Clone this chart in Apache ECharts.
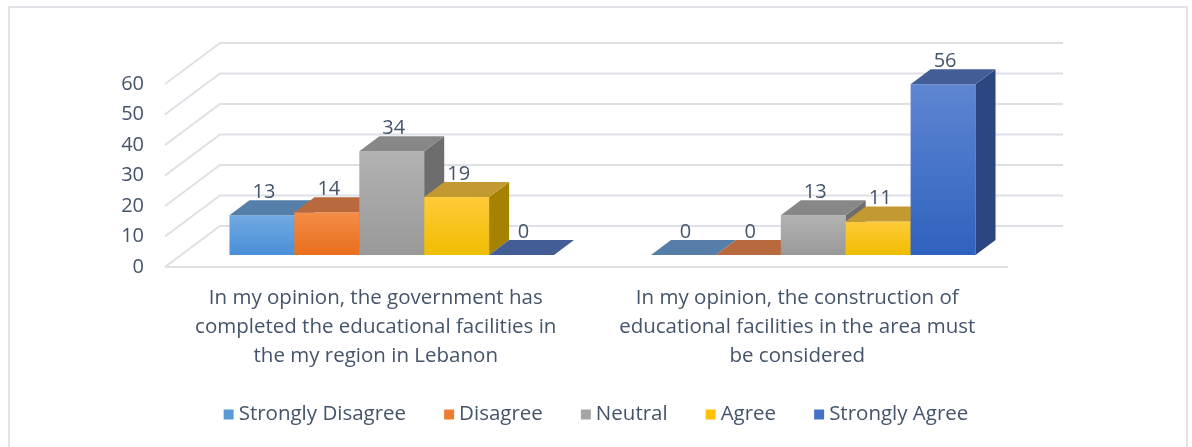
<!DOCTYPE html>
<html>
<head>
    <meta charset="utf-8">
    <script type="text/javascript" src="https://cdn.jsdelivr.net/npm/echarts@6/dist/echarts.min.js"></script>
    <style>
        html, body { margin: 0; padding: 0; background: #fff; }
    </style>
</head>
<body>
<div id="main" style="width:1192px;height:447px"></div>
<script type="text/javascript">
    // data
    var categories = [
        'In my opinion, the government has\ncompleted the educational facilities in\nthe my region in Lebanon',
        'In my opinion, the construction of\neducational facilities in the area must\nbe considered'
    ];
    var seriesNames = ['Strongly Disagree', 'Disagree', 'Neutral', 'Agree', 'Strongly Agree'];
    var stronglyDisagree = [13, 0];
    var disagree = [14, 0];
    var neutral = [34, 13];
    var agree = [19, 11];
    var stronglyAgree = [0, 56];
    var yTicks = [0, 10, 20, 30, 40, 50, 60];

    var allValues = [stronglyDisagree, disagree, neutral, agree, stronglyAgree];
    // front / top / side colours for each series
    var faces = [
        {front: ['#71a9e2', '#4a8fd8'], top: '#557fa8', side: '#3d6c9c', legend: '#5b9bd5'},
        {front: ['#f48d48', '#e86e1c'], top: '#b8693d', side: '#a9561f', legend: '#ed7d31'},
        {front: ['#b2b2b2', '#999999'], top: '#878787', side: '#6d6d6d', legend: '#a5a5a5'},
        {front: ['#ffcb3a', '#efbd00'], top: '#c39a32', side: '#a58200', legend: '#ffc000'},
        {front: ['#5e86d3', '#2f62be'], top: '#435e97', side: '#2b4680', legend: '#4472c4'}
    ];

    var WALL_DX = 55, WALL_DY = 41;   // depth of the floor / back wall
    var BAR_OX = 16, BAR_OY = 12;     // where bar fronts sit
    var BAR_DX = 20, BAR_DY = 15;     // depth of each bar
    var textColor = '#44546a';
    var font = '"Open Sans", "Noto Sans", sans-serif';

    function wallItem(params, api) {
        var cs = params.coordSys;
        var y = api.coord([0, api.value(1)])[1];
        var pts = [[cs.x, y], [cs.x + WALL_DX, y - WALL_DY], [cs.x + cs.width + WALL_DX, y - WALL_DY]];
        var kids = [{
            type: 'polyline',
            shape: {points: pts},
            style: {stroke: '#dde1e7', lineWidth: 2, fill: null}
        }];
        if (api.value(1) === 0) {
            kids.push({
                type: 'line',
                shape: {x1: cs.x, y1: y, x2: cs.x + cs.width, y2: y},
                style: {stroke: '#dde1e7', lineWidth: 2}
            });
        }
        return {type: 'group', children: kids};
    }

    function barRenderer(k) {
        return function (params, api) {
            var cat = api.value(0), v = api.value(1);
            var top = api.coord([cat, v]);
            var base = api.coord([cat, 0]);
            var band = api.size([1, 0])[0];
            var w = band * 0.154;
            var x0 = base[0] - band / 2 + BAR_OX + (band - 5 * w) / 2 + k * w;
            var yb = base[1] - BAR_OY;
            var yt = top[1] - BAR_OY;
            var f = faces[k];
            return {
                type: 'group',
                children: [
                    {
                        type: 'rect',
                        shape: {x: x0, y: yt, width: w, height: yb - yt},
                        style: {
                            fill: new echarts.graphic.LinearGradient(0, 0, 0, 1, [
                                {offset: 0, color: f.front[0]},
                                {offset: 1, color: f.front[1]}
                            ])
                        }
                    },
                    {
                        type: 'polygon',
                        shape: {points: [[x0 + w, yt], [x0 + w + BAR_DX, yt - BAR_DY], [x0 + w + BAR_DX, yb - BAR_DY], [x0 + w, yb]]},
                        style: {fill: f.side}
                    },
                    {
                        type: 'polygon',
                        shape: {points: [[x0, yt], [x0 + w, yt], [x0 + w + BAR_DX, yt - BAR_DY], [x0 + BAR_DX, yt - BAR_DY]]},
                        style: {fill: f.top}
                    },
                    {
                        type: 'text',
                        x: x0 + w / 2 + 2,
                        y: yt - BAR_DY - 8,
                        style: {
                            text: String(v),
                            fill: textColor,
                            font: '20px ' + font,
                            align: 'center',
                            verticalAlign: 'middle'
                        }
                    }
                ]
            };
        };
    }

    var series = [{
        type: 'custom',
        name: 'wall',
        silent: true,
        renderItem: wallItem,
        encode: {x: 0, y: 1},
        data: yTicks.map(function (t) { return [0, t]; }),
        z: 1
    }];
    seriesNames.forEach(function (name, k) {
        series.push({
            type: 'custom',
            name: name,
            renderItem: barRenderer(k),
            encode: {x: 0, y: 1},
            itemStyle: {color: faces[k].legend},
            data: allValues[k].map(function (v, i) { return [i, v]; }),
            z: 2
        });
    });

    var myChart = echarts.init(document.getElementById('main'));
    var option = {
        animation: false,
        textStyle: {fontFamily: font},
        graphic: [{
            type: 'rect',
            shape: {x: 9, y: 7, width: 1178, height: 470},
            style: {fill: null, stroke: '#e1e5ea', lineWidth: 2},
            silent: true
        }],
        grid: {left: 165, right: 184, top: 84, bottom: 180},
        xAxis: {
            type: 'category',
            data: categories,
            axisLine: {show: false},
            axisTick: {show: false},
            axisLabel: {
                color: textColor,
                fontSize: 20.5,
                lineHeight: 29,
                margin: 17,
                interval: 0
            }
        },
        yAxis: {
            type: 'value',
            min: 0,
            max: 60,
            interval: 10,
            splitLine: {show: false},
            axisLine: {show: false},
            axisTick: {show: false},
            axisLabel: {color: textColor, fontSize: 20, margin: 21, padding: [5, 0, 0, 0]}
        },
        legend: {
            data: seriesNames,
            bottom: 17,
            left: 'center',
            icon: 'rect',
            itemWidth: 10,
            itemHeight: 10,
            itemGap: 38,
            textStyle: {color: textColor, fontSize: 20.5, fontFamily: font}
        },
        series: series
    };
    myChart.setOption(option);
</script>
</body>
</html>
